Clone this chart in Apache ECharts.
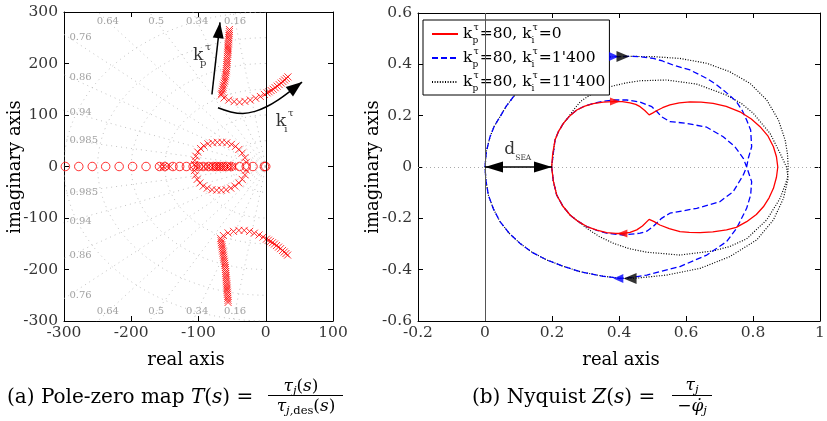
<!DOCTYPE html>
<html>
<head>
<meta charset="utf-8">
<script src="https://cdn.jsdelivr.net/npm/echarts@6/dist/echarts.min.js"></script>
<style>
  html, body { margin: 0; padding: 0; background: #fff; }
  #chart { width: 827px; height: 421px; }
</style>
</head>
<body>
<div id="chart"></div>
<script>
// ---------- (a) pole-zero map data ----------
const zeroRe = [-298, -278, -258, -238, -218, -198, -178, -158, -150, -138, -128, -118, -108, -100,
  -93, -85, -78, -73, -68, -63, -58, -51, -39, -29, -19, -2, 0];
const poleRealAxis = [-157, -152, -147, -142, -104, -98, -92, -87, -82, -78, -75, -72, -69, -66,
  -63, -60, -57, -54, -50, -46];
const poleCircle = [[-106, 4], [-105.5, 12], [-104, 20], [-101, 28], [-97, 35], [-92, 40], [-86, 44],
  [-79, 46], [-72, 47], [-65, 47], [-58, 46], [-51, 43], [-45, 39], [-40, 33], [-35, 26], [-31, 17],
  [-29, 8], [-29, -7], [-31, -16], [-35, -25], [-40, -32], [-46, -38], [-52, -42], [-59, -45],
  [-66, -46], [-73, -46], [-80, -45], [-87, -42], [-93, -38], [-98, -32], [-102, -25], [-104.5, -17],
  [-106, -8]];
const poleUpper = [[-54, 266], [-54, 262], [-54.5, 258], [-54.5, 254], [-55, 250], [-55, 246],
  [-55.5, 242], [-55.5, 238], [-56, 234], [-56, 230], [-56, 226], [-56.5, 222], [-56.5, 218],
  [-57, 214], [-57, 210], [-57.5, 206], [-57.5, 202], [-58, 198], [-58, 194], [-58.5, 190],
  [-58.5, 186], [-59, 182], [-59.5, 178], [-60, 174], [-60.5, 170], [-61, 166], [-62, 162],
  [-63, 158], [-63.5, 154], [-64, 150], [-65, 146], [-65.5, 142], [-66, 139], [-62, 133],
  [-55, 129], [-47, 126], [-39, 125], [-31, 126.5], [-23, 129], [-15, 132.5], [-8, 136], [-2, 140],
  [2, 143], [5, 145], [8, 147.5], [11, 150], [14, 153], [17, 156], [20, 159], [23, 162],
  [25.5, 165], [28, 168], [30.5, 171], [33, 174]];
const poleLower = [[-56, -264], [-56, -260], [-56.5, -256], [-56.5, -252], [-57, -248], [-57, -244],
  [-57.5, -240], [-57.5, -236], [-58, -232], [-58, -228], [-58.5, -224], [-58.5, -220], [-59, -216],
  [-59, -212], [-59.5, -208], [-59.5, -204], [-60, -200], [-60, -196], [-60.5, -192], [-61, -188],
  [-61.5, -184], [-62, -180], [-62.5, -176], [-63, -172], [-63.5, -168], [-64, -164], [-64.5, -160],
  [-65, -156], [-65.5, -152], [-66, -148], [-66.5, -144], [-67, -140], [-63, -134], [-56, -129],
  [-48, -126], [-40, -124], [-32, -124], [-24, -126], [-17, -129.5], [-10, -133], [-4, -137],
  [1, -141], [4, -143], [7, -145.5], [10, -148], [13, -150.5], [16, -153.5], [19, -156.5],
  [22, -159.5], [25, -163], [27.5, -166], [30, -169], [32.5, -172]];

// gain-direction arrows: k_p (straight) and k_i (curved path, head on the last piece)
const kpArrow = [[-80, 140], [-68, 280]];
const kiPath = [[-71, 114], [-52, 106], [-34, 103], [-16, 107], [1, 116], [18, 129], [36, 146]];
const kiHead = [[36, 146], [54, 164]];

// damping-ratio rays and natural-frequency arcs of the s-plane grid
const zetaTop = [0.64, 0.5, 0.34, 0.16];
const zetaSide = [0.76, 0.86, 0.94, 0.985];
const wnGrid = [10, 50, 100, 150, 200, 250, 300];

// ---------- (b) Nyquist data ----------
const nyqRed = [[0.199, 0], [0.202, 0.05], [0.209, 0.105], [0.22, 0.14], [0.234, 0.17],
  [0.252, 0.198], [0.274, 0.222], [0.298, 0.237], [0.323, 0.247], [0.353, 0.253], [0.383, 0.255],
  [0.41, 0.255], [0.433, 0.25], [0.45, 0.244], [0.463, 0.235], [0.477, 0.22], [0.49, 0.203],
  [0.5, 0.21], [0.512, 0.219], [0.53, 0.231], [0.552, 0.242], [0.58, 0.25], [0.612, 0.254],
  [0.645, 0.253], [0.681, 0.248], [0.72, 0.236], [0.761, 0.215], [0.795, 0.187], [0.821, 0.157],
  [0.845, 0.12], [0.861, 0.079], [0.87, 0.04], [0.874, 0], [0.87, -0.04], [0.861, -0.083],
  [0.848, -0.12], [0.831, -0.155], [0.81, -0.185], [0.781, -0.213], [0.75, -0.235], [0.721, -0.245],
  [0.68, -0.253], [0.642, -0.256], [0.61, -0.255], [0.582, -0.252], [0.55, -0.24], [0.522, -0.226],
  [0.505, -0.213], [0.49, -0.204], [0.47, -0.23], [0.453, -0.245], [0.433, -0.255], [0.413, -0.259],
  [0.39, -0.259], [0.363, -0.256], [0.334, -0.246], [0.304, -0.232], [0.278, -0.212], [0.254, -0.187],
  [0.232, -0.152], [0.214, -0.109], [0.204, -0.055], [0.199, 0]];
const nyqBlue = [[0, 0], [0.004, 0.06], [0.015, 0.118], [0.028, 0.16], [0.045, 0.196], [0.063, 0.236],
  [0.085, 0.274], [0.12, 0.318], [0.16, 0.355], [0.2, 0.381], [0.25, 0.405], [0.3, 0.42],
  [0.35, 0.428], [0.393, 0.43], [0.43, 0.431], [0.463, 0.43], [0.502, 0.423], [0.53, 0.413],
  [0.562, 0.397], [0.612, 0.378], [0.662, 0.345], [0.69, 0.322], [0.711, 0.3], [0.733, 0.276],
  [0.751, 0.254], [0.768, 0.22], [0.781, 0.183], [0.793, 0.144], [0.796, 0.079], [0.786, 0.034],
  [0.781, 0], [0.771, -0.031], [0.741, -0.096], [0.701, -0.135], [0.632, -0.161], [0.552, -0.18],
  [0.527, -0.2], [0.502, -0.232], [0.483, -0.25], [0.463, -0.258], [0.413, -0.265], [0.363, -0.258],
  [0.334, -0.247], [0.304, -0.232], [0.278, -0.212], [0.254, -0.187], [0.232, -0.152], [0.214, -0.109],
  [0.204, -0.055], [0.199, 0], [0.204, 0.055], [0.209, 0.105], [0.22, 0.14], [0.234, 0.17],
  [0.252, 0.198], [0.274, 0.222], [0.298, 0.238], [0.323, 0.248], [0.353, 0.256], [0.383, 0.261],
  [0.423, 0.261], [0.463, 0.253], [0.498, 0.235], [0.513, 0.216], [0.527, 0.196], [0.552, 0.177],
  [0.602, 0.17], [0.662, 0.155], [0.711, 0.118], [0.746, 0.079], [0.771, 0.034], [0.781, 0],
  [0.796, -0.057], [0.793, -0.109], [0.781, -0.161], [0.751, -0.239], [0.721, -0.291], [0.662, -0.343],
  [0.582, -0.388], [0.483, -0.421], [0.44, -0.43], [0.403, -0.434], [0.35, -0.425], [0.284, -0.408],
  [0.23, -0.385], [0.184, -0.362], [0.14, -0.332], [0.104, -0.297], [0.072, -0.258], [0.045, -0.213],
  [0.025, -0.163], [0.01, -0.109], [0.003, -0.055], [0, 0]];
const nyqBlack = [[0, 0], [0.004, 0.06], [0.015, 0.118], [0.028, 0.16], [0.045, 0.196], [0.063, 0.236],
  [0.085, 0.274], [0.12, 0.318], [0.16, 0.355], [0.2, 0.381], [0.25, 0.405], [0.3, 0.42],
  [0.35, 0.428], [0.393, 0.43], [0.43, 0.431], [0.502, 0.43], [0.582, 0.423], [0.662, 0.404],
  [0.731, 0.371], [0.791, 0.326], [0.841, 0.261], [0.876, 0.183], [0.896, 0.105], [0.903, 0.05],
  [0.905, 0], [0.903, -0.044], [0.881, -0.122], [0.841, -0.206], [0.781, -0.28], [0.73, -0.31],
  [0.681, -0.327], [0.582, -0.343], [0.483, -0.332], [0.43, -0.318], [0.383, -0.297], [0.34, -0.27],
  [0.304, -0.239], [0.278, -0.212], [0.254, -0.187], [0.232, -0.152], [0.214, -0.109], [0.204, -0.055],
  [0.199, 0], [0.204, 0.055], [0.209, 0.105], [0.22, 0.14], [0.234, 0.17], [0.25, 0.196],
  [0.264, 0.222], [0.285, 0.255], [0.313, 0.28], [0.345, 0.3], [0.383, 0.316], [0.423, 0.328],
  [0.463, 0.336], [0.542, 0.339], [0.632, 0.323], [0.721, 0.28], [0.765, 0.248], [0.801, 0.209],
  [0.851, 0.131], [0.881, 0.053], [0.9, 0], [0.905, -0.044], [0.891, -0.122], [0.861, -0.206],
  [0.811, -0.284], [0.731, -0.349], [0.642, -0.395], [0.542, -0.421], [0.453, -0.433], [0.403, -0.434],
  [0.35, -0.425], [0.284, -0.408], [0.23, -0.385], [0.184, -0.362], [0.14, -0.332], [0.104, -0.297],
  [0.072, -0.258], [0.045, -0.213], [0.025, -0.163], [0.01, -0.109], [0.003, -0.055], [0, 0]];

// direction arrows on the Nyquist curves: [x, y]
const arrowsRight = { red: [[0.388, 0.255]], blue: [[0.385, 0.431]], black: [[0.412, 0.431]] };
const arrowsLeft = { red: [[0.41, -0.259]], blue: [[0.398, -0.434]], black: [[0.433, -0.434]] };
const dSea = [[0, 0], [0.2, 0]];

const seriesNames = ['kp80_ki0', 'kp80_ki1400', 'kp80_ki11400'];
const legendLabels = {
  kp80_ki0: '{n|k}{sb|p}{sp|τ}{n|=80, k}{sb|i}{sp|τ}{n|=0}',
  kp80_ki1400: "{n|k}{sb|p}{sp|τ}{n|=80, k}{sb|i}{sp|τ}{n|=1'400}",
  kp80_ki11400: "{n|k}{sb|p}{sp|τ}{n|=80, k}{sb|i}{sp|τ}{n|=11'400}"
};

// axis ranges and tick labels
const xTicksA = { min: -300, max: 100, interval: 100 };
const yTicksA = { min: -300, max: 300, interval: 100 };
const xTicksB = { min: -0.2, max: 1, interval: 0.2 };
const yTicksB = { min: -0.6, max: 0.6, interval: 0.2 };
const xLabelsA = [-300, -200, -100, 0, 100];
const yLabelsA = [-300, -200, -100, 0, 100, 200, 300];
const xLabelsB = [-0.2, 0, 0.2, 0.4, 0.6, 0.8, 1];
const yLabelsB = [-0.6, -0.4, -0.2, 0, 0.2, 0.4, 0.6];

// ---------- chart ----------
const FONT = 'DejaVu Serif';
const RED = '#ff0000', BLUE = '#0000ff', BLACK = '#000000', GRAY = '#b4b4b4';

const chart = echarts.init(document.getElementById('chart'), null, { renderer: 'canvas' });

function axis(extra, ticks) {
  return Object.assign({
    type: 'value', min: ticks.min, max: ticks.max, interval: ticks.interval,
    axisLine: { show: true, onZero: false, lineStyle: { color: '#000', width: 1 } },
    axisTick: { show: true, inside: true, length: 5, lineStyle: { color: '#000', width: 1 } },
    splitLine: { show: false },
    axisLabel: { show: false }
  }, extra);
}

const subRich = {
  n: { fontFamily: FONT, fontSize: 15.5, color: '#000', lineHeight: 22 },
  sb: { fontFamily: FONT, fontSize: 9, color: '#000', verticalAlign: 'bottom', lineHeight: 11, width: 0 },
  sp: { fontFamily: FONT, fontSize: 9.5, color: '#000', verticalAlign: 'top', lineHeight: 11, padding: [0, 1, 0, 1] }
};

const crossPath = 'path://M0,0L10,10M10,0L0,10';
const series = [];

// tick labels, placed on the axis edges through each grid's scales
function tickLabels(xi, yi, xs, ys, xMin, yMin) {
  const tick = { fontFamily: FONT, fontSize: 15.5, color: '#000' };
  series.push({
    type: 'scatter', xAxisIndex: xi, yAxisIndex: yi, silent: true, symbolSize: 0, clip: false, z: 5,
    data: xs.map(v => [v, yMin]),
    label: { show: true, position: 'bottom', distance: 4, formatter: p => '{t|' + p.value[0] + '}', rich: { t: tick } }
  });
  series.push({
    type: 'scatter', xAxisIndex: xi, yAxisIndex: yi, silent: true, symbolSize: 0, clip: false, z: 5,
    data: ys.map(v => [xMin, v]),
    label: { show: true, position: 'left', distance: 6, formatter: p => '{t|' + p.value[1] + '}', rich: { t: tick } }
  });
}
tickLabels(0, 0, xLabelsA, yLabelsA, xTicksA.min, yTicksA.min);
tickLabels(2, 2, xLabelsB, yLabelsB, xTicksB.min, yTicksB.min);

// s-plane grid rays
[...zetaTop, ...zetaSide].forEach(z => {
  const s = Math.sqrt(1 - z * z);
  [1, -1].forEach(sg => series.push({
    type: 'line', xAxisIndex: 0, yAxisIndex: 0, silent: true, symbol: 'none',
    data: [[0, 0], [-800 * z, sg * 800 * s]],
    lineStyle: { color: GRAY, width: 0.8, type: [1, 4] }, z: 1
  }));
});
// s-plane grid arcs
wnGrid.forEach(w => {
  const pts = [];
  for (let a = 0; a <= 180; a += 2) {
    const t = a * Math.PI / 180;
    pts.push([-w * Math.sin(t), w * Math.cos(t)]);
  }
  series.push({
    type: 'line', xAxisIndex: 0, yAxisIndex: 0, silent: true, symbol: 'none', data: pts,
    lineStyle: { color: GRAY, width: 0.8, type: [1, 4] }, z: 1
  });
});
// damping-ratio labels
const zetaLabels = [];
zetaTop.forEach(z => {
  const s = Math.sqrt(1 - z * z);
  zetaLabels.push([-282 * z / s, 282, z, 'center']);
  zetaLabels.push([-282 * z / s, -282, z, 'center']);
});
zetaSide.forEach(z => {
  const s = Math.sqrt(1 - z * z);
  zetaLabels.push([-292, 292 * s / z, z, 'left']);
  zetaLabels.push([-292, -292 * s / z, z, 'left']);
});
series.push({
  type: 'scatter', xAxisIndex: 0, yAxisIndex: 0, silent: true, symbolSize: 0, z: 1,
  data: zetaLabels.map(d => ({
    value: [d[0], d[1]],
    label: { show: true, position: 'inside', formatter: '{g|' + d[2] + '}', align: d[3],
      verticalAlign: 'middle', rich: { g: { fontFamily: FONT, fontSize: 10, color: '#8a8a8a' } } }
  }))
});

// zeros (with the imaginary axis line)
series.push({
  type: 'scatter', xAxisIndex: 0, yAxisIndex: 0, symbol: 'circle', symbolSize: 8.5,
  data: zeroRe.map(r => [r, 0]),
  itemStyle: { color: 'rgba(0,0,0,0)', borderColor: RED, borderWidth: 1 },
  markLine: {
    silent: true, symbol: 'none', label: { show: false },
    lineStyle: { color: '#000', width: 1, type: 'solid' },
    data: [
      { xAxis: 0 },
      [
        { coord: kpArrow[0], symbol: 'none' },
        { coord: kpArrow[1], symbol: 'triangle', symbolSize: [11, 16], symbolOffset: [0, 8],
          lineStyle: { width: 1.5 } }
      ],
      [
        { coord: kiHead[0], symbol: 'none' },
        { coord: kiHead[1], symbol: 'triangle', symbolSize: [12, 16], symbolOffset: [0, 8],
          lineStyle: { width: 1.5 } }
      ]
    ]
  },
  z: 3
});
// curved shaft of the k_i arrow
series.push({
  type: 'line', xAxisIndex: 0, yAxisIndex: 0, silent: true, symbol: 'none', smooth: 0.4,
  data: kiPath, lineStyle: { color: '#000', width: 1.5 }, z: 3
});
// poles
series.push({
  type: 'scatter', xAxisIndex: 0, yAxisIndex: 0, symbol: crossPath, symbolSize: 7,
  data: [...poleRealAxis.map(r => [r, 0]), ...poleCircle, ...poleUpper, ...poleLower],
  itemStyle: { color: 'rgba(0,0,0,0)', borderColor: RED, borderWidth: 1 },
  z: 3
});
// gain annotations
series.push({
  type: 'scatter', xAxisIndex: 0, yAxisIndex: 0, silent: true, symbolSize: 0, z: 4,
  data: [
    { value: [-95, 215], label: { formatter: '{n|k}{sb|p}{sp|τ}' } },
    { value: [28, 88], label: { formatter: '{n|k}{sb|i}{sp|τ}' } }
  ],
  label: { show: true, position: 'inside', rich: {
    n: { fontFamily: FONT, fontSize: 17, color: '#000', lineHeight: 26 },
    sb: { fontFamily: FONT, fontSize: 10, color: '#000', verticalAlign: 'bottom', lineHeight: 12, width: 0 },
    sp: { fontFamily: FONT, fontSize: 10, color: '#000', verticalAlign: 'top', lineHeight: 12, padding: [0, 0, 0, 2] }
  } }
});

// Nyquist curves (black first so the dashed blue stays on top)
const nyq = [
  { name: seriesNames[2], data: nyqBlack, color: BLACK, type: [1, 1.6], width: 1.2 },
  { name: seriesNames[1], data: nyqBlue, color: BLUE, type: [6, 3], width: 1.3 },
  { name: seriesNames[0], data: nyqRed, color: RED, type: 'solid', width: 1.3 }
];
nyq.forEach(c => series.push({
  name: c.name, type: 'line', xAxisIndex: 2, yAxisIndex: 2, data: c.data, symbol: 'none',
  showSymbol: false, smooth: false, itemStyle: { color: c.color },
  lineStyle: { color: c.color, width: c.width, type: c.type }, z: 2
}));
// reference lines and d_SEA marker
series.push({
  type: 'scatter', xAxisIndex: 2, yAxisIndex: 2, silent: true, symbolSize: 0, z: 5,
  data: [{ value: [0.098, 0.066], label: { show: true, position: 'inside',
    formatter: '{n|d}{sb|SEA}', rich: {
      n: { fontFamily: FONT, fontSize: 17, color: '#000', lineHeight: 24 },
      sb: { fontFamily: FONT, fontSize: 7.5, color: '#000', verticalAlign: 'bottom', lineHeight: 10 }
    } } }],
  markLine: {
    silent: true, symbol: 'none', label: { show: false }, animation: false,
    data: [
      { xAxis: 0, lineStyle: { color: '#555', width: 1, type: 'solid' } },
      { yAxis: 0, lineStyle: { color: '#aaa', width: 1, type: [1, 3] } },
      [
        { coord: dSea[0], symbol: 'triangle', symbolSize: [11, 18], symbolOffset: [0, 9] },
        { coord: dSea[1], symbol: 'triangle', symbolSize: [11, 18], symbolOffset: [0, 9],
          lineStyle: { color: '#000', width: 1.5, type: 'solid' } }
      ]
    ]
  }
});
// direction arrows
const triR = 'path://M0,0L10,5L0,10Z', triL = 'path://M10,0L0,5L10,10Z';
const arrowSize = { red: [10, 8], blue: [10, 9], black: [13, 11] };
const arrowColor = { red: RED, blue: BLUE, black: BLACK };
['blue', 'black', 'red'].forEach(k => {
  series.push({
    type: 'scatter', xAxisIndex: 2, yAxisIndex: 2, silent: true, z: 4,
    symbol: triR, symbolSize: arrowSize[k], data: arrowsRight[k], itemStyle: { color: arrowColor[k] }
  });
  series.push({
    type: 'scatter', xAxisIndex: 2, yAxisIndex: 2, silent: true, z: 4,
    symbol: triL, symbolSize: arrowSize[k], data: arrowsLeft[k], itemStyle: { color: arrowColor[k] }
  });
});

const capRich = {
  n: { fontFamily: FONT, fontSize: 20, color: '#000' },
  i: { fontFamily: FONT, fontSize: 20, fontStyle: 'italic', color: '#000' },
  fi: { fontFamily: FONT, fontSize: 17, fontStyle: 'italic', color: '#000', lineHeight: 20 },
  fn: { fontFamily: FONT, fontSize: 17, color: '#000', lineHeight: 20 },
  fs: { fontFamily: FONT, fontSize: 11.5, fontStyle: 'italic', color: '#000', verticalAlign: 'bottom', lineHeight: 12 },
  fd: { fontFamily: FONT, fontSize: 11.5, color: '#000', verticalAlign: 'bottom', lineHeight: 12 }
};
function txt(x, y, text, opts) {
  return Object.assign({ type: 'text', x, y, silent: true,
    style: Object.assign({ text, rich: capRich, textAlign: 'left', textVerticalAlign: 'middle',
      fontFamily: FONT, fontSize: 18, fill: '#000' }, opts || {}) });
}

const option = {
  animation: false,
  backgroundColor: '#fff',
  textStyle: { fontFamily: FONT },
  grid: [
    { left: 64, top: 12, width: 269, height: 309 },
    { left: 418, top: 13, width: 402, height: 308 }
  ],
  xAxis: [
    axis({ gridIndex: 0, position: 'bottom' }, xTicksA),
    axis({ gridIndex: 0, position: 'top' }, xTicksA),
    axis({ gridIndex: 1, position: 'bottom' }, xTicksB),
    axis({ gridIndex: 1, position: 'top' }, xTicksB)
  ],
  yAxis: [
    axis({ gridIndex: 0, position: 'left' }, yTicksA),
    axis({ gridIndex: 0, position: 'right' }, yTicksA),
    axis({ gridIndex: 1, position: 'left' }, yTicksB),
    axis({ gridIndex: 1, position: 'right' }, yTicksB)
  ],
  legend: {
    data: seriesNames, orient: 'vertical', left: 423, top: 20,
    padding: [3, 4, 2, 8], itemGap: 2, itemWidth: 26, itemHeight: 12,
    backgroundColor: '#fff', borderColor: '#000', borderWidth: 1, borderRadius: 0,
    selectedMode: false,
    itemStyle: { opacity: 0 },
    formatter: n => legendLabels[n],
    textStyle: { fontFamily: FONT, fontSize: 15.5, rich: subRich }
  },
  graphic: [
    txt(15, 167, 'imaginary axis', { textAlign: 'center' }),
    txt(373, 167, 'imaginary axis', { textAlign: 'center' }),
    txt(186, 360, 'real axis', { textAlign: 'center' }),
    txt(621, 360, 'real axis', { textAlign: 'center' }),
    txt(7, 398, '{n|(a) Pole-zero map }{i|T}{n|(}{i|s}{n|) = }'),
    txt(301, 387, '{fi|τ}{fs|j}{fn|(}{fi|s}{fn|)}', { textAlign: 'center' }),
    { type: 'line', silent: true, shape: { x1: 268, y1: 395.5, x2: 343, y2: 395.5 }, style: { stroke: '#000', lineWidth: 1 } },
    txt(306, 407, '{fi|τ}{fs|j,}{fd|des}{fn|(}{fi|s}{fn|)}', { textAlign: 'center' }),
    txt(472, 398, '{n|(b) Nyquist }{i|Z}{n|(}{i|s}{n|) = }'),
    txt(692, 386, '{fi|τ}{fs|j}', { textAlign: 'center' }),
    { type: 'line', silent: true, shape: { x1: 672, y1: 395.5, x2: 712, y2: 395.5 }, style: { stroke: '#000', lineWidth: 1 } },
    txt(692, 407, '{fn|−}{fi|φ̇}{fs|j}', { textAlign: 'center' })
  ],
  series
};
// rotate the vertical axis titles
option.graphic[0].rotation = Math.PI / 2;
option.graphic[1].rotation = Math.PI / 2;

chart.setOption(option);
</script>
</body>
</html>
